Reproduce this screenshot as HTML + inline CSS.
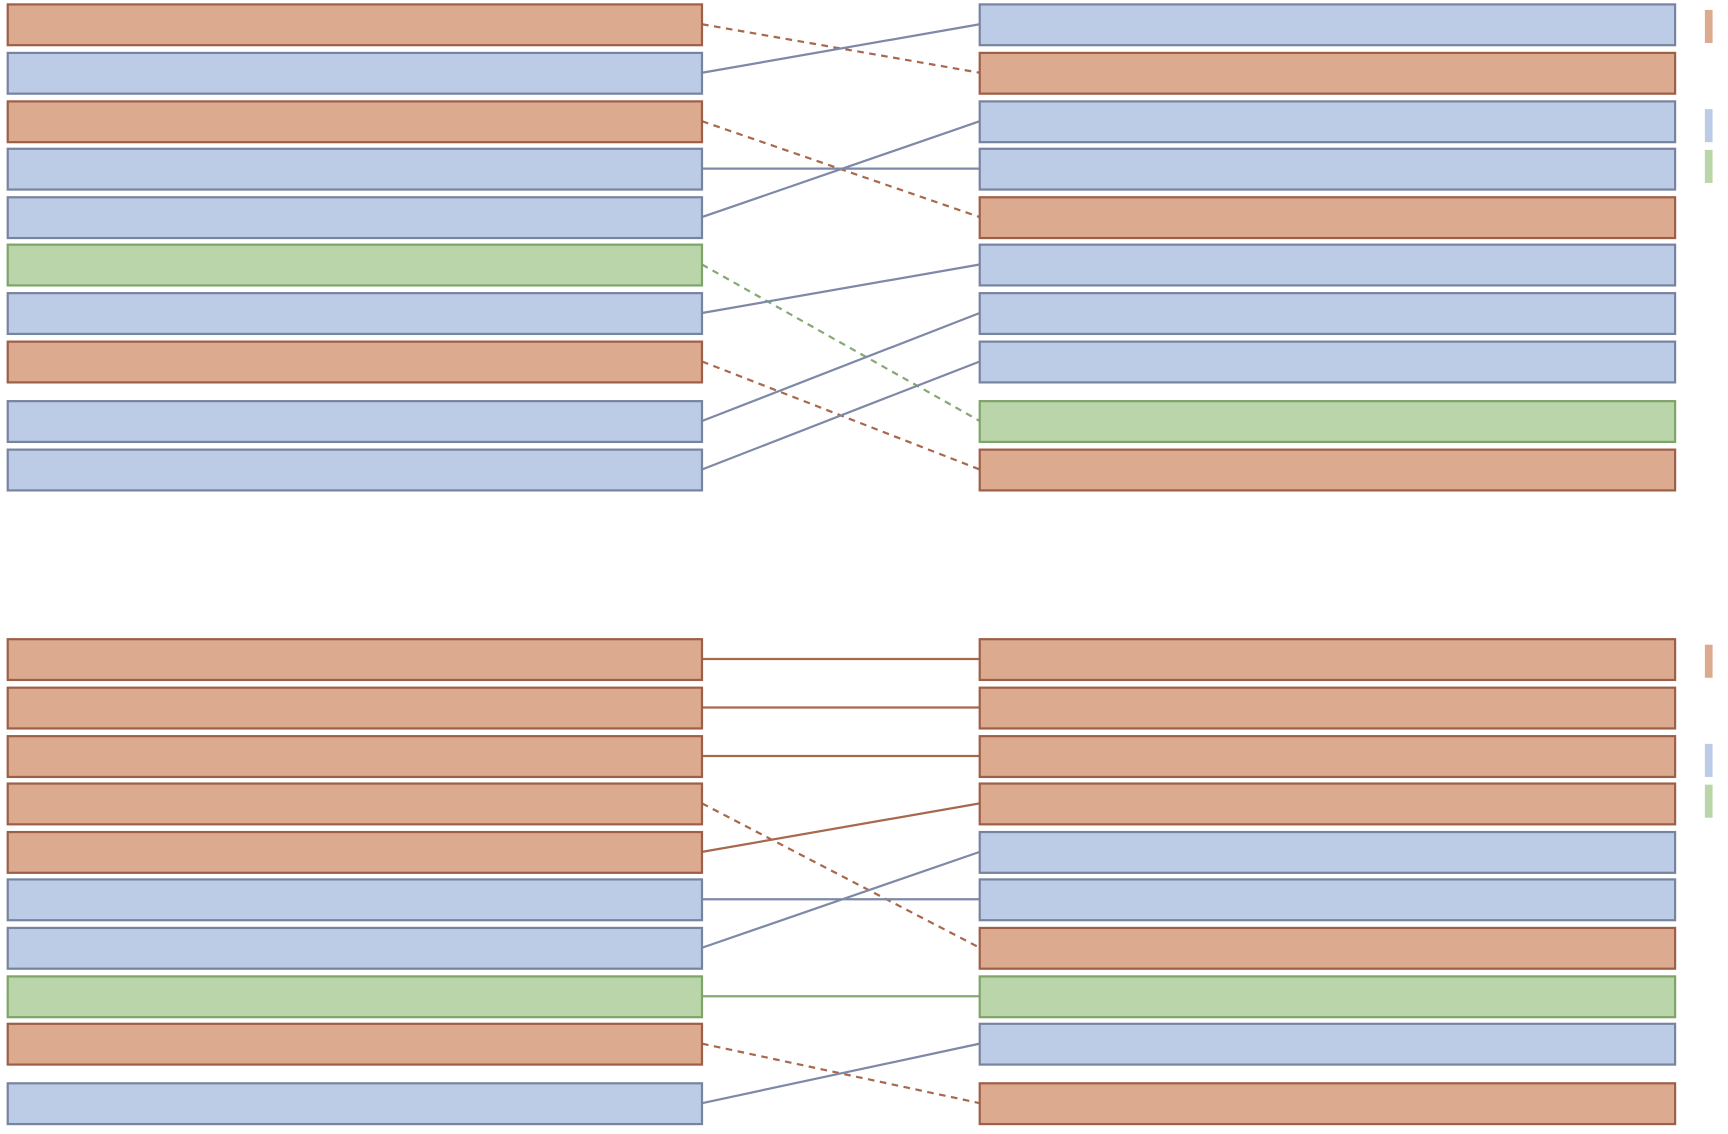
<!DOCTYPE html>
<html><head><style>html,body{margin:0;padding:0;background:#fff;}svg{display:block}</style></head>
<body>
<svg width="1728" height="1134" viewBox="0 0 1568 1029" preserveAspectRatio="none" xmlns="http://www.w3.org/2000/svg">
<defs>
<style>
.o{fill:#dcaa8f;stroke:#9e5f48;stroke-width:2}
.b{fill:#bccbe6;stroke:#77849f;stroke-width:2}
.g{fill:#bad5aa;stroke:#7ea468;stroke-width:2}
.lo{stroke:#a8684e;stroke-width:2;fill:none}
.lb{stroke:#7e89a8;stroke-width:2;fill:none}
.lg{stroke:#86a872;stroke-width:2;fill:none}
.d{stroke-dasharray:6 5}
</style>
</defs>
<!-- top lines -->
<line class="lo d" x1="637" y1="22" x2="889" y2="66"/>
<line class="lb" x1="637" y1="66" x2="889" y2="22"/>
<line class="lo d" x1="637" y1="110" x2="889" y2="197"/>
<line class="lb" x1="637" y1="153" x2="889" y2="153"/>
<line class="lb" x1="637" y1="197" x2="889" y2="110"/>
<line class="lg d" x1="637" y1="240" x2="889" y2="382"/>
<line class="lb" x1="637" y1="284" x2="889" y2="240"/>
<line class="lo d" x1="637" y1="328" x2="889" y2="426"/>
<line class="lb" x1="637" y1="382" x2="889" y2="284"/>
<line class="lb" x1="637" y1="426" x2="889" y2="328"/>
<!-- bottom lines -->
<line class="lo" x1="637" y1="598" x2="889" y2="598"/>
<line class="lo" x1="637" y1="642" x2="889" y2="642"/>
<line class="lo" x1="637" y1="686" x2="889" y2="686"/>
<line class="lo d" x1="637" y1="729" x2="889" y2="860"/>
<line class="lo" x1="637" y1="773" x2="889" y2="729"/>
<line class="lb" x1="637" y1="816" x2="889" y2="816"/>
<line class="lb" x1="637" y1="860" x2="889" y2="773"/>
<line class="lg" x1="637" y1="904" x2="889" y2="904"/>
<line class="lo d" x1="637" y1="947" x2="889" y2="1001"/>
<line class="lb" x1="637" y1="1001" x2="889" y2="947"/>
<!-- top left boxes -->
<rect class="o" x="7" y="4" width="630" height="37"/>
<rect class="b" x="7" y="48" width="630" height="37"/>
<rect class="o" x="7" y="92" width="630" height="37"/>
<rect class="b" x="7" y="135" width="630" height="37"/>
<rect class="b" x="7" y="179" width="630" height="37"/>
<rect class="g" x="7" y="222" width="630" height="37"/>
<rect class="b" x="7" y="266" width="630" height="37"/>
<rect class="o" x="7" y="310" width="630" height="37"/>
<rect class="b" x="7" y="364" width="630" height="37"/>
<rect class="b" x="7" y="408" width="630" height="37"/>
<!-- top right boxes -->
<rect class="b" x="889" y="4" width="631" height="37"/>
<rect class="o" x="889" y="48" width="631" height="37"/>
<rect class="b" x="889" y="92" width="631" height="37"/>
<rect class="b" x="889" y="135" width="631" height="37"/>
<rect class="o" x="889" y="179" width="631" height="37"/>
<rect class="b" x="889" y="222" width="631" height="37"/>
<rect class="b" x="889" y="266" width="631" height="37"/>
<rect class="b" x="889" y="310" width="631" height="37"/>
<rect class="g" x="889" y="364" width="631" height="37"/>
<rect class="o" x="889" y="408" width="631" height="37"/>
<!-- bottom left -->
<rect class="o" x="7" y="580" width="630" height="37"/>
<rect class="o" x="7" y="624" width="630" height="37"/>
<rect class="o" x="7" y="668" width="630" height="37"/>
<rect class="o" x="7" y="711" width="630" height="37"/>
<rect class="o" x="7" y="755" width="630" height="37"/>
<rect class="b" x="7" y="798" width="630" height="37"/>
<rect class="b" x="7" y="842" width="630" height="37"/>
<rect class="g" x="7" y="886" width="630" height="37"/>
<rect class="o" x="7" y="929" width="630" height="37"/>
<rect class="b" x="7" y="983" width="630" height="37"/>
<!-- bottom right -->
<rect class="o" x="889" y="580" width="631" height="37"/>
<rect class="o" x="889" y="624" width="631" height="37"/>
<rect class="o" x="889" y="668" width="631" height="37"/>
<rect class="o" x="889" y="711" width="631" height="37"/>
<rect class="b" x="889" y="755" width="631" height="37"/>
<rect class="b" x="889" y="798" width="631" height="37"/>
<rect class="o" x="889" y="842" width="631" height="37"/>
<rect class="g" x="889" y="886" width="631" height="37"/>
<rect class="b" x="889" y="929" width="631" height="37"/>
<rect class="o" x="889" y="983" width="631" height="37"/>
<!-- legend swatches -->
<rect x="1547" y="9" width="7" height="30" fill="#dcaa8f"/>
<rect x="1547" y="99" width="7" height="30" fill="#bccbe6"/>
<rect x="1547" y="136" width="7" height="30" fill="#bad5aa"/>
<rect x="1547" y="585" width="7" height="30" fill="#dcaa8f"/>
<rect x="1547" y="675" width="7" height="30" fill="#bccbe6"/>
<rect x="1547" y="712" width="7" height="30" fill="#bad5aa"/>
</svg>
</body></html>
